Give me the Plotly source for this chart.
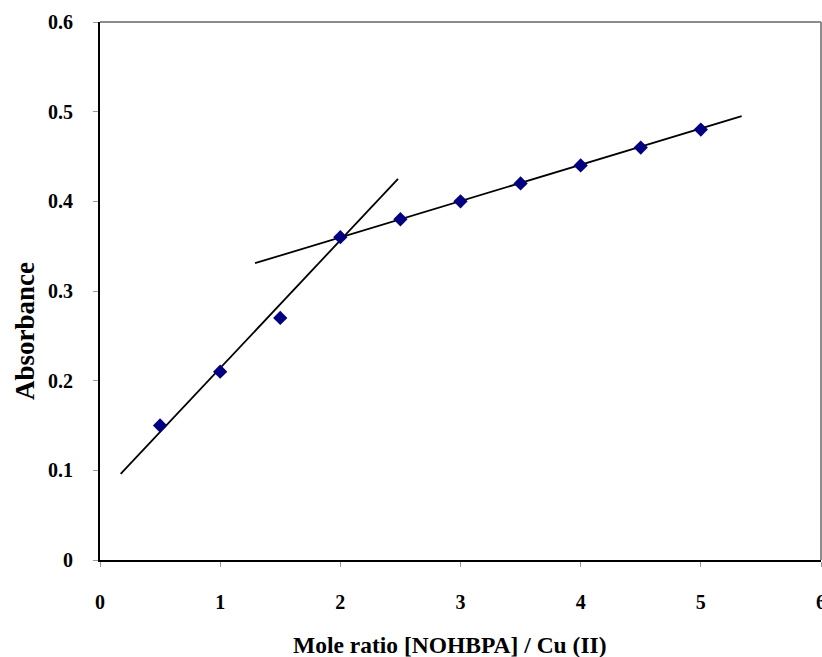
import plotly.graph_objects as go

mole_ratio = [0.5, 1.0, 1.5, 2.0, 2.5, 3.0, 3.5, 4.0, 4.5, 5.0]
absorbance = [0.15, 0.21, 0.27, 0.36, 0.38, 0.40, 0.42, 0.44, 0.46, 0.48]

# linear trend lines (start / end values)
trend1_x = [0.172, 2.48]
trend1_y = [0.096, 0.425]
trend2_x = [1.29, 5.34]
trend2_y = [0.331, 0.495]

x_ticks = [0, 1, 2, 3, 4, 5, 6]
y_ticks = [0, 0.1, 0.2, 0.3, 0.4, 0.5, 0.6]
y_tick_labels = ["0", "0.1", "0.2", "0.3", "0.4", "0.5", "0.6"]

fig = go.Figure()
for tx, ty in [(trend1_x, trend1_y), (trend2_x, trend2_y)]:
    fig.add_trace(go.Scatter(x=tx, y=ty, mode="lines",
                             line=dict(color="black", width=1.8),
                             showlegend=False, hoverinfo="skip"))
fig.add_trace(go.Scatter(x=mole_ratio, y=absorbance, mode="markers",
                         marker=dict(symbol="diamond", size=11, color="#000080",
                                     line=dict(width=0)),
                         showlegend=False))

tickfont = dict(family="Liberation Serif", size=20, color="black")
fig.update_layout(
    width=822, height=657,
    margin=dict(l=100, r=1, t=22, b=97, autoexpand=False),
    paper_bgcolor="white", plot_bgcolor="white",
    font=dict(family="Liberation Serif", color="black"),
    xaxis=dict(range=[0, 6], tickvals=x_ticks, ticktext=[f"<b>{v}</b>" for v in x_ticks],
               showgrid=False, zeroline=False, showline=True, linecolor="black", linewidth=2,
               ticks="outside", ticklen=5, tickcolor="#999999", tickwidth=1,
               ticklabelstandoff=18, automargin=False, ticklabeloverflow="allow",
               tickfont=tickfont),
    yaxis=dict(range=[0, 0.6], tickvals=y_ticks, ticktext=[f"<b>{t}</b>" for t in y_tick_labels],
               showgrid=False, zeroline=False, showline=True, linecolor="black", linewidth=2,
               ticks="outside", ticklen=5, tickcolor="#999999", tickwidth=1,
               ticklabelstandoff=16, automargin=False, ticklabeloverflow="allow",
               tickfont=tickfont),
    shapes=[
        dict(type="line", xref="paper", yref="paper", x0=0, x1=1, y0=1, y1=1,
             line=dict(color="#8c8c8c", width=2)),
        dict(type="line", xref="paper", yref="paper", x0=1, x1=1, y0=0, y1=1,
             line=dict(color="#8c8c8c", width=2)),
    ],
    annotations=[
        dict(text="<b>Mole ratio [NOHBPA] / Cu (II)</b>", xref="paper", yref="paper",
             x=(450 - 100) / 721, y=-(645 - 560) / 538, xanchor="center", yanchor="middle",
             showarrow=False, font=dict(family="Liberation Serif", size=23.5, color="black")),
        dict(text="<b>Absorbance</b>", xref="paper", yref="paper",
             x=-(100 - 25) / 721, y=(560 - 331) / 538, xanchor="center", yanchor="middle",
             textangle=-90, showarrow=False,
             font=dict(family="Liberation Serif", size=27, color="black")),
    ],
)

fig.write_html("out.html", config={"displayModeBar": False},
               post_script="document.body.style.margin='0px';document.body.style.overflow='hidden';")
